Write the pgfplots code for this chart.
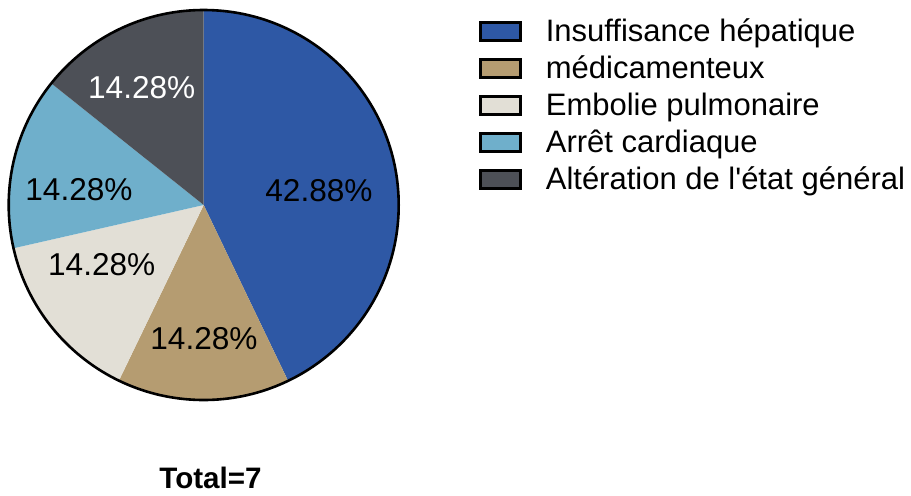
\documentclass[border=0pt]{standalone}
\usepackage{pgfplots}
\pgfplotsset{compat=1.18}
\usepackage{pgfplotstable}
\usepackage{fontspec}
\setmainfont{Liberation Sans}
\definecolor{c0}{HTML}{2E58A5}
\definecolor{c1}{HTML}{B59C71}
\definecolor{c2}{HTML}{E2DFD6}
\definecolor{c3}{HTML}{6FAFCB}
\definecolor{c4}{HTML}{4D5057}

% value = percentage of slice; lx, ly = label position (px, y up); tc = label colour
\pgfplotstableread{
value lx    ly    tc
42.88 319   293.3 black
14.28 204   146   black
14.28 101.7 220   black
14.28 79    294.3 black
14.28 141.7 396.7 white
}\piedata

\def\cum{0}
\pgfplotsforeachungrouped \i in {0,...,4}{%
  \pgfplotstablegetelem{\i}{value}\of\piedata
  \expandafter\xdef\csname pval\i\endcsname{\pgfplotsretval}%
  \pgfmathsetmacro\st{90-\cum*3.6}%
  \pgfmathsetmacro\cumnew{\cum+\pgfplotsretval}%
  \pgfmathsetmacro\en{90-\cumnew*3.6}%
  \expandafter\xdef\csname pst\i\endcsname{\st}%
  \expandafter\xdef\csname pen\i\endcsname{\en}%
  \global\let\cum\cumnew
  \pgfplotstablegetelem{\i}{lx}\of\piedata
  \expandafter\xdef\csname plx\i\endcsname{\pgfplotsretval}%
  \pgfplotstablegetelem{\i}{ly}\of\piedata
  \expandafter\xdef\csname ply\i\endcsname{\pgfplotsretval}%
  \pgfplotstablegetelem{\i}{tc}\of\piedata
  \expandafter\xdef\csname ptc\i\endcsname{\pgfplotsretval}%
}

\begin{document}
\begin{tikzpicture}
\begin{axis}[
  x=0.5pt, y=0.5pt,
  xmin=0, xmax=911, ymin=0, ymax=495,
  hide axis, clip=false, scale only axis,
  legend image code/.code={\draw[#1] (0pt,-4.5pt) rectangle (20pt,4.5pt);},
  legend style={at={(0.5256,0.9693)}, anchor=north west, draw=none, fill=none,
    inner sep=0pt, outer sep=0pt, font=\fontsize{15.5}{18}\selectfont,
    row sep=2.5pt,
    nodes={inner sep=0pt, text height=13.25pt, text depth=2.75pt},
    cells={anchor=west},
    /tikz/every odd column/.append style={column sep=12pt}},
]
\path (axis cs:0,0) rectangle (axis cs:911,495);
\pgfplotsinvokeforeach{0,...,4}{%
  \fill[c#1] (axis cs:203.7,290) -- ++(\csname pst#1\endcsname:97.5pt)
    arc[start angle=\csname pst#1\endcsname, end angle=\csname pen#1\endcsname, radius=97.5pt] -- cycle;
}
\draw[line width=1.3pt] (axis cs:203.7,290) circle[radius=97.5pt];
\pgfplotsinvokeforeach{0,...,4}{%
  \node[anchor=base, inner sep=0pt, text=\csname ptc#1\endcsname, font=\fontsize{15.8}{18}\selectfont]
    at (axis cs:\csname plx#1\endcsname,\csname ply#1\endcsname) {\csname pval#1\endcsname\%};
}
\node[anchor=base, inner sep=0pt, font=\fontsize{14.8}{17}\selectfont\bfseries] at (axis cs:210.5,6.7) {Total=7};
\addlegendimage{fill=c0, draw=black, line width=1.5pt}
\addlegendentry{Insuffisance hépatique}
\addlegendimage{fill=c1, draw=black, line width=1.5pt}
\addlegendentry{médicamenteux}
\addlegendimage{fill=c2, draw=black, line width=1.5pt}
\addlegendentry{Embolie pulmonaire}
\addlegendimage{fill=c3, draw=black, line width=1.5pt}
\addlegendentry{Arrêt cardiaque}
\addlegendimage{fill=c4, draw=black, line width=1.5pt}
\addlegendentry{Altération de l\textquotesingle état général}
\end{axis}
\end{tikzpicture}
\end{document}
